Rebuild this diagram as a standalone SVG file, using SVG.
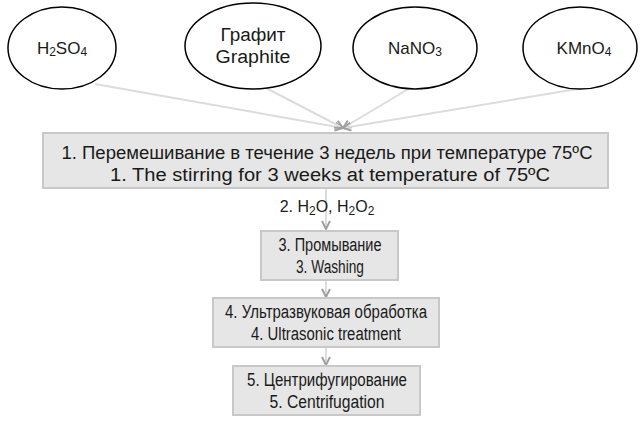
<svg xmlns="http://www.w3.org/2000/svg" width="643" height="433" viewBox="0 0 643 433">
<defs>
<style>
text{font-family:"Liberation Sans",Arial,sans-serif;font-size:18px;fill:#1a1a1a;text-anchor:middle}
.f17{font-size:17px}
.f16{font-size:16px}
.sub{font-size:12px}
.ell{fill:#fff;stroke:#000;stroke-width:1.5}
.box{fill:#e6e6e6;stroke:#c8c8c8;stroke-width:2}
.edge{stroke:#dcdcdc;stroke-width:2;fill:none}
</style>
<marker id="arr" viewBox="0 0 10 10" refX="9" refY="5" markerWidth="10" markerHeight="10" markerUnits="userSpaceOnUse" orient="auto">
<path d="M1,1 L9,5 L1,9" fill="none" stroke="#a0a0a0" stroke-width="2"/>
</marker>
</defs>
<rect width="643" height="433" fill="#fff"/>
<g id="connectors">
<path class="edge" d="M95,84 L343,128" marker-end="url(#arr)"/>
<path class="edge" d="M266,88 L343,128" marker-end="url(#arr)"/>
<path class="edge" d="M410,88 L343,128" marker-end="url(#arr)"/>
<path class="edge" d="M583,88 L343,128" marker-end="url(#arr)"/>
<path class="edge" d="M326,189 L326,229" marker-end="url(#arr)"/>
<path class="edge" d="M326,281 L326,297" marker-end="url(#arr)"/>
<path class="edge" d="M326,348 L326,365" marker-end="url(#arr)"/>
<text class="f16" x="327" y="212">2. H<tspan class="sub" dy="3">2</tspan><tspan dy="-3">O, H</tspan><tspan class="sub" dy="3">2</tspan><tspan dy="-3">O</tspan><tspan class="sub" dy="3">2</tspan></text>
</g>
<g id="h2so4">
<ellipse class="ell" cx="62" cy="48" rx="54" ry="41"/>
<text class="f17" x="62" y="54">H<tspan class="sub" dy="2">2</tspan><tspan dy="-2">SO</tspan><tspan class="sub" dy="2">4</tspan></text>
</g>
<g id="graphite">
<ellipse class="ell" cx="253" cy="46" rx="68" ry="43"/>
<text x="253" y="41" textLength="65" lengthAdjust="spacingAndGlyphs">Графит</text>
<text x="253" y="63" textLength="75" lengthAdjust="spacingAndGlyphs">Graphite</text>
</g>
<g id="nano3">
<ellipse class="ell" cx="415" cy="48" rx="62" ry="41"/>
<text class="f17" x="415" y="54">NaNO<tspan class="sub" dy="2">3</tspan></text>
</g>
<g id="kmno4">
<ellipse class="ell" cx="580" cy="48" rx="57" ry="41"/>
<text class="f17" x="584" y="54">KMnO<tspan class="sub" dy="2">4</tspan></text>
</g>
<g id="step1">
<rect class="box" x="43" y="133" width="565" height="55"/>
<text x="327" y="159" textLength="531" lengthAdjust="spacingAndGlyphs">1. Перемешивание в течение 3 недель при температуре 75ºC</text>
<text x="330" y="181" textLength="440" lengthAdjust="spacingAndGlyphs">1. The stirring for 3 weeks at temperature of 75ºC</text>
</g>
<g id="step3">
<rect class="box" x="261" y="231" width="137" height="49"/>
<text x="330" y="251" textLength="103" lengthAdjust="spacingAndGlyphs">3. Промывание</text>
<text x="330" y="273" textLength="68" lengthAdjust="spacingAndGlyphs">3. Washing</text>
</g>
<g id="step4">
<rect class="box" x="213" y="298" width="226" height="49"/>
<text x="326" y="318" textLength="202" lengthAdjust="spacingAndGlyphs">4. Ультразвуковая обработка</text>
<text x="326" y="340" textLength="150" lengthAdjust="spacingAndGlyphs">4. Ultrasonic treatment</text>
</g>
<g id="step5">
<rect class="box" x="233" y="366" width="187" height="49"/>
<text x="327" y="386" textLength="160" lengthAdjust="spacingAndGlyphs">5. Центрифугирование</text>
<text x="327" y="408" textLength="115" lengthAdjust="spacingAndGlyphs">5. Centrifugation</text>
</g>
</svg>
